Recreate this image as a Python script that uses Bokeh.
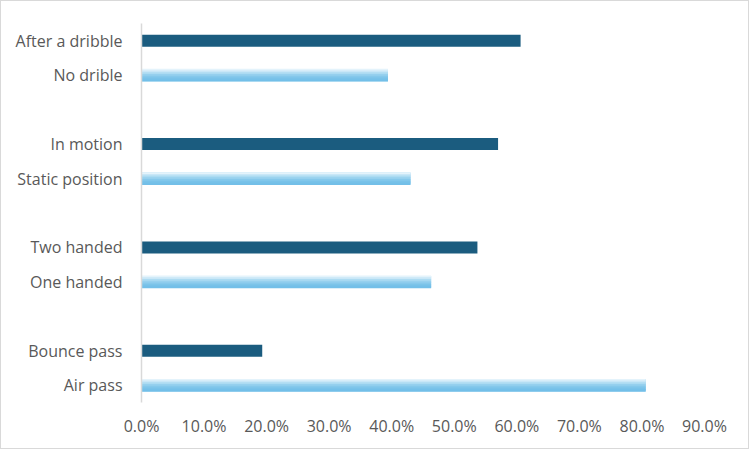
from bokeh.plotting import figure
from bokeh.models import FactorRange, NumeralTickFormatter, FixedTicker, ColumnDataSource
from bokeh.transform import dodge
from bokeh.embed import file_html
from bokeh.resources import INLINE

# Data (top to bottom as in the chart)
dark_labels = ["After a dribble", "In motion", "Two handed", "Bounce pass"]
dark_values = [0.606, 0.570, 0.537, 0.193]
light_labels = ["No drible", "Static position", "One handed", "Air pass"]
light_values = [0.394, 0.430, 0.463, 0.806]
x_ticks = [0.0, 0.1, 0.2, 0.3, 0.4, 0.5, 0.6, 0.7, 0.8, 0.9]

# factor order bottom -> top, with blank spacer slots between groups
factors = []
for i in range(len(dark_labels) - 1, -1, -1):
    factors.append(light_labels[i])
    factors.append(dark_labels[i])
    if i > 0:
        factors.append(" " * (i))

DARK = "#1b5c7f"
LIGHT_BASE = "#8fcdee"
LIGHT_STRIPS = ["#e4f3fb", "#c9e7f7", "#acdbf2", "#96d0ee", "#85c8eb", "#79c2e9", "#73bfe8"]
BAR_H = 0.35
FONT = "Open Sans"

p = figure(width=749, height=449, y_range=FactorRange(*factors, range_padding=0),
           x_range=(0, 0.9), output_backend="svg", toolbar_location=None,
           min_border_left=140, min_border_top=22, min_border_bottom=48, min_border_right=46)
p.styles = {"border": "1px solid #d9d9d9"}

p.hbar(y=dark_labels, right=dark_values, left=0, height=BAR_H, color=DARK, line_color=None)

src = ColumnDataSource(dict(y=light_labels, right=light_values))
p.hbar(y="y", right="right", left=0, height=BAR_H, source=src, color=LIGHT_BASE, line_color=None)
n = len(LIGHT_STRIPS)
sh = BAR_H / n
for k, col in enumerate(LIGHT_STRIPS):
    off = BAR_H / 2 - sh * (k + 0.5)
    p.hbar(y=dodge("y", off, range=p.y_range), right="right", left=0, height=sh * 1.4,
           source=src, color=col, line_color=None)

p.xgrid.visible = False
p.ygrid.visible = False
p.outline_line_color = None

xa = p.xaxis[0]
xa.ticker = FixedTicker(ticks=x_ticks)
xa.formatter = NumeralTickFormatter(format="0.0%")
xa.axis_line_color = None
xa.major_tick_line_color = None
xa.minor_tick_line_color = None
xa.major_label_standoff = 6
xa.major_label_text_font = FONT
xa.major_label_text_font_size = "16px"
xa.major_label_text_color = "#595959"

ya = p.yaxis[0]
ya.axis_line_color = "#d9d9d9"
ya.axis_line_width = 1.5
ya.major_tick_line_color = None
ya.minor_tick_line_color = None
ya.major_label_standoff = 13
ya.major_label_text_font = FONT
ya.major_label_text_font_size = "16px"
ya.major_label_text_color = "#595959"

open("out.html", "w").write(file_html(p, INLINE))
